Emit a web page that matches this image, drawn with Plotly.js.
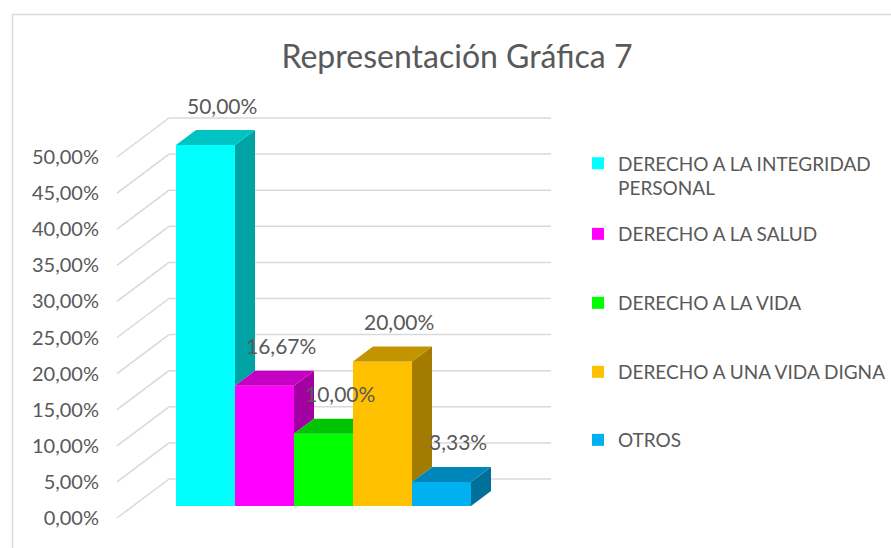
<!DOCTYPE html>
<html>
<head>
<meta charset="utf-8">
<script src="https://cdn.plot.ly/plotly-3.0.1.min.js"></script>
<style>html,body{margin:0;padding:0;background:#fff;}#chart{width:891px;height:548px;}</style>
</head>
<body>
<div id="chart"></div>
<script>
// ---------- DATA ----------
const categories = ['DERECHO A LA INTEGRIDAD PERSONAL', 'DERECHO A LA SALUD', 'DERECHO A LA VIDA', 'DERECHO A UNA VIDA DIGNA', 'OTROS'];
const legendLabels = ['DERECHO A LA INTEGRIDAD<br>PERSONAL', 'DERECHO A LA SALUD', 'DERECHO A LA VIDA', 'DERECHO A UNA VIDA DIGNA', 'OTROS'];
const values = [50.00, 16.67, 10.00, 20.00, 3.33];
const tickValues = [0, 5, 10, 15, 20, 25, 30, 35, 40, 45, 50];
const chartTitle = 'Representación Gráfica 7';

// ---------- STYLE ----------
const frontColors = ['#00FFFF', '#FF00FF', '#00FF00', '#FFC000', '#00B0F0'];
const topColors   = ['#00C4C4', '#C400C4', '#00C400', '#C49400', '#0086B8'];
const sideColors  = ['#00A3A3', '#A300A3', '#00A300', '#A37B00', '#00709A'];
const TEXT = '#595959';
const FONT = 'Lato, "Open Sans", sans-serif';
const GRID = '#d9d9d9';

// ---------- GEOMETRY (pixels) ----------
const PLOT = {l: 100, r: 560, t: 100, b: 530};
const CAT0_PX = 205.5, PX_PER_CAT = 59, ZERO_PX = 506, PX_PER_PCT = 7.22;
const DEPTH_DX = 20, DEPTH_DY = 15;
const WALL_X_PX = 133, BACKWALL_END_PX = 551;
const T_FRONT = -0.8, T_BACK = 1.8;
const LEGEND_LEFT_PX = 578;
const LEGEND_CENTER_PX = [176, 234, 303, 372, 440];

const xRange = [(PLOT.l - CAT0_PX) / PX_PER_CAT, (PLOT.r - CAT0_PX) / PX_PER_CAT];
const yRange = [(ZERO_PX - PLOT.b) / PX_PER_PCT, (ZERO_PX - PLOT.t) / PX_PER_PCT];
const ddx = DEPTH_DX / PX_PER_CAT, ddy = DEPTH_DY / PX_PER_PCT;
const X0 = (WALL_X_PX - CAT0_PX) / PX_PER_CAT;
const xEnd = (BACKWALL_END_PX - CAT0_PX) / PX_PER_CAT;
const y2Range = yRange.map(r => r - T_FRONT * ddy);

const fmt = v => v.toFixed(2).replace('.', ',') + '%';
const xs = categories.map((c, i) => i);

const traces = [];
// front faces (real bars, one per category for the legend)
categories.forEach((c, i) => {
  traces.push({
    type: 'bar', x: [xs[i]], y: [values[i]], width: 1,
    name: legendLabels[i],
    marker: {color: frontColors[i], line: {width: 0}},
    legend: i === 0 ? 'legend' : 'legend' + (i + 1),
    hoverinfo: 'skip'
  });
});
// side and top faces (visible parts), computed from values
categories.forEach((c, i) => {
  const v = values[i];
  const next = i < values.length - 1 ? values[i + 1] : 0;
  const xr = xs[i] + 0.5, xl = xs[i] - 0.5;
  if (next < v) {
    traces.push({
      type: 'scatter', mode: 'lines', fill: 'toself', fillcolor: sideColors[i],
      line: {width: 0, color: sideColors[i]}, showlegend: false, hoverinfo: 'skip',
      x: [xr, xr + ddx, xr + ddx, xr, xr],
      y: [next, next + ddy, v + ddy, v, next]
    });
  }
  let tx, ty;
  if (next <= v) {
    tx = [xl, xl + ddx, xr + ddx, xr, xl];
    ty = [v, v + ddy, v + ddy, v, v];
  } else if (next >= v + ddy) {
    tx = [xl, xl + ddx, xr, xr, xl];
    ty = [v, v + ddy, v + ddy, v, v];
  } else {
    const f = (next - v) / ddy;
    tx = [xl, xl + ddx, xr + ddx, xr + ddx * f, xr, xr, xl];
    ty = [v, v + ddy, v + ddy, next, next, v, v];
  }
  traces.push({
    type: 'scatter', mode: 'lines', fill: 'toself', fillcolor: topColors[i],
    line: {width: 0, color: topColors[i]}, showlegend: false, hoverinfo: 'skip',
    x: tx, y: ty
  });
});
// invisible trace that carries the tick-label axis
traces.push({
  type: 'scatter', mode: 'markers', x: tickValues.map(() => xRange[0]), y: tickValues,
  yaxis: 'y2', marker: {opacity: 0}, showlegend: false, hoverinfo: 'skip'
});

// gridlines: left wall diagonals and back wall horizontals
const shapes = [];
tickValues.forEach(v => {
  const xa = X0 + T_FRONT * ddx, ya = v + T_FRONT * ddy;
  const xb = X0 + T_BACK * ddx, yb = v + T_BACK * ddy;
  shapes.push({type: 'line', xref: 'x', yref: 'y', x0: xa, y0: ya, x1: xb, y1: yb, layer: 'below', line: {color: GRID, width: 1.5}});
  shapes.push({type: 'line', xref: 'x', yref: 'y', x0: xb, y0: yb, x1: xEnd, y1: yb, layer: 'below', line: {color: GRID, width: 1.5}});
});
// chart border
const pw = PLOT.r - PLOT.l, ph = PLOT.b - PLOT.t;
shapes.push({type: 'rect', xref: 'paper', yref: 'paper',
  x0: (12.5 - PLOT.l) / pw, x1: (900 - PLOT.l) / pw,
  y0: (PLOT.b - 560) / ph, y1: (PLOT.b - 14.5) / ph,
  line: {color: GRID, width: 1.5}, layer: 'below'});

// data labels
const annotations = values.map((v, i) => ({
  x: xs[i] + ddx / 2, y: v + ddy, xref: 'x', yref: 'y',
  text: fmt(v), showarrow: false, xshift: 6, yshift: 25,
  font: {family: FONT, size: 21, color: TEXT}
}));

const layout = {
  width: 891, height: 548,
  margin: {l: PLOT.l, r: 891 - PLOT.r, t: PLOT.t, b: 548 - PLOT.b, pad: 0, autoexpand: false},
  paper_bgcolor: '#ffffff', plot_bgcolor: 'rgba(0,0,0,0)',
  separators: ',.',
  barmode: 'overlay',
  hovermode: false,
  title: {text: chartTitle, font: {family: FONT, size: 32, color: TEXT},
    xref: 'container', yref: 'container', x: 457 / 891, y: 1 - 57 / 548, xanchor: 'center', yanchor: 'middle'},
  xaxis: {range: xRange, autorange: false, visible: false, fixedrange: true},
  yaxis: {range: yRange, autorange: false, visible: false, fixedrange: true},
  yaxis2: {range: y2Range, autorange: false, overlaying: 'y', side: 'left', anchor: 'x',
    tickmode: 'array', tickvals: tickValues, ticktext: tickValues.map(fmt),
    showgrid: false, zeroline: false, automargin: false,
    showline: false, ticks: '', tickfont: {family: FONT, size: 20, color: TEXT}, fixedrange: true},
  shapes: shapes,
  annotations: annotations
};
categories.forEach((c, i) => {
  const key = i === 0 ? 'legend' : 'legend' + (i + 1);
  layout[key] = {
    xref: 'container', yref: 'container',
    x: LEGEND_LEFT_PX / 891, xanchor: 'left',
    y: 1 - LEGEND_CENTER_PX[i] / 548, yanchor: 'middle',
    valign: 'top', bgcolor: 'rgba(0,0,0,0)', borderwidth: 0,
    font: {family: FONT, size: 19, color: TEXT}
  };
});

Plotly.newPlot('chart', traces, layout, {displayModeBar: false, staticPlot: true});
</script>
</body>
</html>
